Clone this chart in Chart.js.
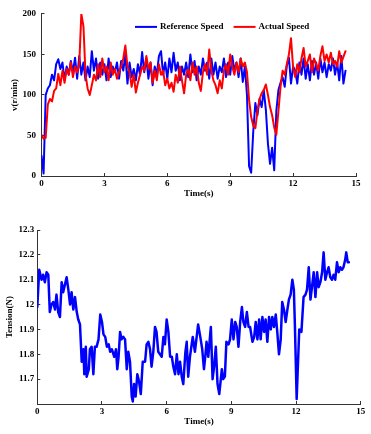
<!DOCTYPE html>
<html>
<head>
<meta charset="utf-8">
<script src="https://cdn.jsdelivr.net/npm/chart.js@4.4.0/dist/chart.umd.min.js"></script>
<style>
  html, body { margin: 0; padding: 0; background: #fff; }
  .box { position: absolute; left: 0; width: 371px; }
  #speedBox { top: 0; height: 210px; }
  #tensionBox { top: 210px; height: 224px; }
</style>
</head>
<body>
<div class="box" id="speedBox"><canvas id="speedChart" width="371" height="210"></canvas></div>
<div class="box" id="tensionBox"><canvas id="tensionChart" width="371" height="224"></canvas></div>
<script>
// speed samples, one every 0.1 s from t = 0
const speedStep = 0.1;
const referenceSpeed = [
  25, 3, 100, 108, 112, 125, 118, 138, 144, 132,
  140, 118, 135, 125, 142, 128, 146, 120, 148, 125,
  140, 118, 135, 122, 154, 130, 145, 120, 140, 125,
  138, 118, 145, 122, 135, 128, 140, 120, 142, 130,
  150, 114, 140, 122, 132, 118, 138, 125, 153, 128,
  145, 120, 140, 112, 135, 125, 148, 154, 125, 140,
  120, 145, 128, 152, 130, 140, 118, 135, 125, 140,
  122, 150, 128, 142, 118, 135, 125, 145, 130, 140,
  120, 145, 125, 140, 120, 135, 128, 145, 122, 140,
  125, 148, 130, 140, 122, 145, 116, 135, 100, 12,
  4, 55, 90, 75, 95, 85, 106, 82, 40, 15,
  35, 7, 80, 106, 115, 122, 110, 136, 146, 114,
  135, 130, 114, 140, 125, 145, 120, 138, 118, 142,
  125, 140, 120, 145, 128, 140, 122, 138, 130, 145,
  125, 140, 118, 148, 114, 130
];
const actualSpeed = [
  51, 46, 47, 88, 95, 92, 105, 108, 126, 112,
  130, 115, 132, 125, 140, 122, 135, 128, 138, 200,
  185, 125, 108, 100, 112, 125, 118, 138, 122, 145,
  128, 135, 118, 140, 125, 132, 120, 128, 135, 145,
  161, 135, 128, 110, 125, 103, 115, 125, 135, 130,
  148, 132, 140, 115, 130, 118, 138, 125, 130, 112,
  120, 108, 115, 104, 125, 115, 135, 118, 102, 125,
  132, 118, 140, 125, 135, 115, 105, 128, 138, 125,
  156, 130, 118, 112, 102, 118, 108, 130, 138, 125,
  150, 135, 125, 140, 128, 145, 135, 140, 128, 94,
  73, 62, 59, 80, 95, 102, 106, 113, 100, 85,
  75, 60, 51, 80, 110, 130, 125, 138, 150, 170,
  134, 122, 138, 128, 145, 158, 135, 142, 150, 128,
  145, 138, 130, 148, 160, 142, 150, 140, 152, 138,
  142, 135, 154, 140, 147, 154
];

const tensionTime = [
  0, 0.09, 0.2, 0.27, 0.35, 0.43, 0.51, 0.58, 0.66, 0.74,
  0.82, 0.89, 0.97, 1.05, 1.13, 1.2, 1.28, 1.36, 1.44, 1.52,
  1.59, 1.67, 1.75, 1.83, 1.9, 1.98, 2.06, 2.14, 2.18, 2.25,
  2.29, 2.39, 2.44, 2.52, 2.6, 2.67, 2.75, 2.84, 2.92, 3.0,
  3.07, 3.15, 3.23, 3.31, 3.38, 3.46, 3.57, 3.65, 3.71, 3.77,
  3.84, 3.91, 3.99, 4.07, 4.15, 4.22, 4.3, 4.38, 4.43, 4.49,
  4.56, 4.64, 4.72, 4.8, 4.89, 5.0, 5.07, 5.15, 5.23, 5.3,
  5.38, 5.46, 5.53, 5.61, 5.69, 5.77, 5.85, 5.92, 6.0, 6.08,
  6.16, 6.24, 6.31, 6.39, 6.47, 6.55, 6.62, 6.7, 6.77, 6.87,
  6.93, 7.0, 7.08, 7.21, 7.31, 7.46, 7.56, 7.65, 7.73, 7.79,
  7.85, 7.93, 8.05, 8.13, 8.2, 8.28, 8.36, 8.44, 8.56, 8.62,
  8.7, 8.77, 8.87, 8.94, 9.02, 9.1, 9.18, 9.25, 9.33, 9.41,
  9.49, 9.56, 9.64, 9.72, 9.8, 9.87, 9.98, 10.06, 10.13, 10.21,
  10.29, 10.36, 10.44, 10.52, 10.59, 10.67, 10.75, 10.83, 10.9, 10.98,
  11.06, 11.13, 11.21, 11.29, 11.36, 11.44, 11.52, 11.6, 11.67, 11.75,
  11.83, 11.9, 11.95, 12.03, 12.15, 12.25, 12.35, 12.44, 12.51, 12.59,
  12.67, 12.74, 12.82, 12.9, 12.98, 13.05, 13.13, 13.21, 13.28, 13.36,
  13.44, 13.51, 13.59, 13.67, 13.74, 13.82, 13.9, 13.98, 14.05, 14.13,
  14.2, 14.28, 14.33, 14.4, 14.45
];
const tensionValue = [
  11.99, 12.14, 12.10, 12.12, 12.09, 12.13, 12.12, 11.97, 12.00, 12.01,
  11.98, 12.04, 11.97, 11.95, 12.09, 12.05, 12.08, 12.11, 12.06, 12.00,
  12.05, 11.98, 12.03, 11.97, 11.94, 11.92, 11.77, 11.82, 11.72, 11.83,
  11.71, 11.74, 11.82, 11.83, 11.72, 11.83, 11.83, 11.86, 11.96, 11.93,
  11.88, 11.87, 11.83, 11.84, 11.81, 11.82, 11.79, 11.82, 11.74, 11.79,
  11.89, 11.86, 11.87, 11.86, 11.74, 11.81, 11.77, 11.63, 11.61, 11.68,
  11.63, 11.72, 11.69, 11.64, 11.77, 11.77, 11.84, 11.85, 11.82, 11.75,
  11.81, 11.91, 11.89, 11.81, 11.80, 11.79, 11.87, 11.84, 11.94, 11.89,
  11.79, 11.79, 11.75, 11.72, 11.80, 11.72, 11.77, 11.71, 11.68, 11.81,
  11.85, 11.71, 11.79, 11.87, 11.81, 11.92, 11.87, 11.82, 11.74, 11.79,
  11.85, 11.79, 11.91, 11.70, 11.75, 11.83, 11.68, 11.64, 11.74, 11.70,
  11.71, 11.85, 11.84, 11.86, 11.94, 11.86, 11.93, 11.91, 11.83, 11.93,
  11.99, 11.93, 11.91, 11.97, 11.91, 11.91, 11.85, 11.87, 11.93, 11.86,
  11.94, 11.86, 11.95, 11.89, 11.94, 11.85, 11.95, 11.90, 11.95, 11.91,
  11.96, 11.89, 11.80, 11.86, 12.01, 11.98, 11.93, 11.98, 12.02, 12.04,
  12.10, 12.06, 11.91, 11.62, 11.90, 11.89, 12.03, 12.04, 12.06, 12.15,
  12.02, 12.07, 12.13, 12.03, 12.13, 12.07, 12.09, 12.13, 12.21, 12.10,
  12.13, 12.15, 12.11, 12.10, 12.12, 12.10, 12.17, 12.13, 12.15, 12.14,
  12.15, 12.18, 12.21, 12.17, 12.17
];

const timeTicks = [0, 3, 6, 9, 12, 15];
const speedTicks = [0, 50, 100, 150, 200];
const tensionTicks = [11.7, 11.8, 11.9, 12, 12.1, 12.2, 12.3];

const FONT = "'Liberation Serif', 'Times New Roman', serif";
Chart.defaults.font.family = FONT;
Chart.defaults.font.size = 9;
Chart.defaults.font.weight = 'bold';
Chart.defaults.color = '#000';

// legend drawn inside the plot, short line + label
const lineLegend = {
  id: 'lineLegend',
  afterDraw(chart, args, opts) {
    if (!opts.show) return;
    const { ctx, chartArea } = chart;
    ctx.save();
    ctx.font = 'bold 9px ' + FONT;
    ctx.textBaseline = 'middle';
    let x = chartArea.left + opts.x;
    const y = chartArea.top + opts.y;
    chart.data.datasets.forEach(ds => {
      ctx.strokeStyle = ds.borderColor;
      ctx.lineWidth = 2;
      ctx.beginPath();
      ctx.moveTo(x, y);
      ctx.lineTo(x + 22, y);
      ctx.stroke();
      ctx.fillStyle = '#000';
      ctx.fillText(ds.label, x + 25, y);
      x += 25 + ctx.measureText(ds.label).width + 10;
    });
    ctx.restore();
  }
};

function axis(ticks, extra) {
  return Object.assign({
    type: 'linear',
    min: ticks[0],
    max: ticks[ticks.length - 1],
    afterBuildTicks: s => { s.ticks = ticks.map(v => ({ value: v })); },
    border: { display: true, color: '#333', width: 1 },
    grid: { drawOnChartArea: false, drawTicks: true, tickLength: -3, color: '#333' },
  }, extra);
}

const lineStyle = { pointRadius: 0, borderJoinStyle: 'round', borderCapStyle: 'round' };

new Chart(document.getElementById('speedChart'), {
  type: 'line',
  data: {
    datasets: [
      Object.assign({
        label: 'Reference Speed',
        data: referenceSpeed.map((v, i) => ({ x: i * speedStep, y: v })),
        borderColor: '#0000ff', borderWidth: 2, order: 1
      }, lineStyle),
      Object.assign({
        label: 'Actual Speed',
        data: actualSpeed.map((v, i) => ({ x: i * speedStep, y: v })),
        borderColor: '#ff0000', borderWidth: 2, order: 0
      }, lineStyle)
    ]
  },
  options: {
    responsive: false,
    animation: false,
    devicePixelRatio: 1,
    layout: { padding: { top: 8, right: 15, bottom: 0, left: 0 } },
    plugins: {
      legend: { display: false },
      tooltip: { enabled: false },
      lineLegend: { show: true, x: 93.5, y: 13 }
    },
    scales: {
      x: axis(timeTicks, {
        position: 'bottom',
        ticks: { padding: 5, maxRotation: 0, callback: v => String(v) },
        title: { display: true, text: 'Time(s)', padding: { top: 0, bottom: 11 } },
        afterFit: s => { s.height = 34; }
      }),
      y: axis(speedTicks, {
        position: 'left',
        ticks: { padding: 8.5, callback: v => String(v) },
        title: { display: true, text: 'v(r/min)', padding: { top: 9.6, bottom: 0 } },
        afterFit: s => { s.width = 41.5; }
      })
    }
  },
  plugins: [lineLegend]
});

new Chart(document.getElementById('tensionChart'), {
  type: 'line',
  data: {
    datasets: [
      Object.assign({
        label: 'Tension',
        data: tensionValue.map((v, i) => ({ x: tensionTime[i], y: v })),
        borderColor: '#0000ff', borderWidth: 2.5
      }, lineStyle)
    ]
  },
  options: {
    responsive: false,
    animation: false,
    devicePixelRatio: 1,
    layout: { padding: { top: 20, right: 10.3, bottom: 0, left: 0 } },
    plugins: {
      legend: { display: false },
      tooltip: { enabled: false },
      lineLegend: { show: false }
    },
    scales: {
      x: axis(timeTicks, {
        position: 'bottom',
        ticks: { padding: 5.3, maxRotation: 0, callback: v => String(v) },
        title: { display: true, text: 'Time(s)', padding: { top: 0, bottom: 6.9 } },
        afterFit: s => { s.height = 30; }
      }),
      y: Object.assign(axis(tensionTicks, {
        position: 'left',
        ticks: { padding: 6, callback: v => String(v) },
        title: { display: true, text: 'Tension(N)', padding: { top: 4.6, bottom: 0 } },
        afterFit: s => { s.width = 37.3; }
      }), { min: 11.6 })
    }
  },
  plugins: [lineLegend]
});
</script>
</body>
</html>
